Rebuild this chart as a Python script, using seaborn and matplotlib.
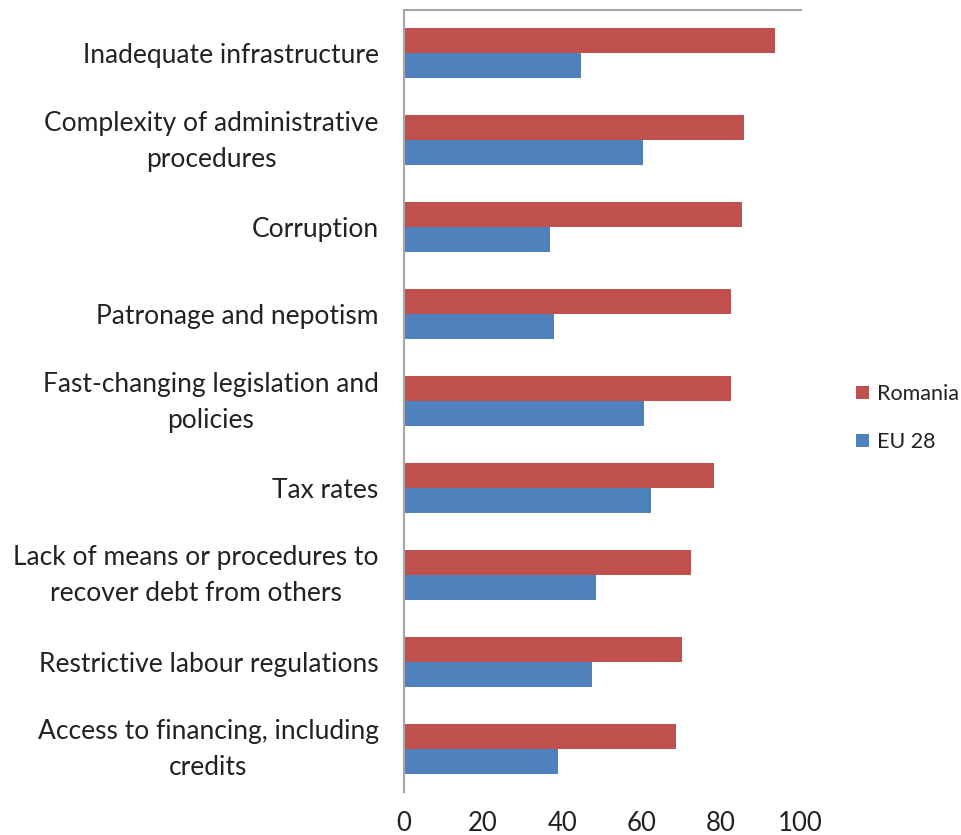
import matplotlib
matplotlib.use("Agg")
import matplotlib.pyplot as plt
import matplotlib.transforms as mtransforms
import seaborn as sns
import pandas as pd

# Obstacles to doing business: share of companies citing each factor
categories = [
    "Inadequate infrastructure",
    "Complexity of administrative\nprocedures",
    "Corruption",
    "Patronage and nepotism",
    "Fast-changing legislation and\npolicies",
    "Tax rates",
    "Lack of means or procedures to\nrecover debt from others",
    "Restrictive labour regulations",
    "Access to financing, including\ncredits",
]
romania = [93.5, 85.8, 85.3, 82.4, 82.4, 78.1, 72.5, 70.2, 68.6]
eu28 = [44.7, 60.4, 36.9, 37.9, 60.6, 62.3, 48.4, 47.5, 38.9]
series = ["Romania", "EU 28"]
x_ticks = [0, 20, 40, 60, 80, 100]

df = pd.DataFrame({
    "factor": categories * 2,
    "value": romania + eu28,
    "series": [series[0]] * len(categories) + [series[1]] * len(categories),
})

sns.set_theme(style="white")
plt.rcParams["font.family"] = ["Lato", "DejaVu Sans"]

fig = plt.figure(figsize=(9.61, 8.35), dpi=100)
ax = fig.add_axes([0.420, 0.0515, 0.413, 0.9365])

palette = {"Romania": "#C0504D", "EU 28": "#4F81BD"}
sns.barplot(
    data=df, y="factor", x="value", hue="series", order=categories,
    hue_order=series, palette=palette, orient="h", width=0.575,
    gap=0, saturation=1, edgecolor="none", ax=ax,
)

ax.set_xlim(0, 100)
ax.set_ylim(len(categories) - 0.5, -0.5)
ax.set_xticks(x_ticks)
ax.set_xticklabels([str(t) for t in x_ticks])
ax.set_xlabel("")
ax.set_ylabel("")

for side in ["bottom", "right"]:
    ax.spines[side].set_visible(False)
for side in ["top", "left"]:
    ax.spines[side].set_color("#A6A6A6")
    ax.spines[side].set_linewidth(1.5)

ax.tick_params(axis="x", length=0, pad=14, labelsize=18.5, labelcolor="#222222")
ax.tick_params(axis="y", length=0, pad=18, labelsize=19, labelcolor="#222222")

# two-line category labels: wider leading, nudged up to sit centred on the pair
lift = mtransforms.ScaledTranslation(0, 5 / 72, fig.dpi_scale_trans)
for lbl in ax.get_yticklabels():
    lbl.set_multialignment("center")
    lbl.set_linespacing(1.55)
    if "\n" in lbl.get_text():
        lbl.set_transform(lbl.get_transform() + lift)

ax.legend(
    loc="center left", bbox_to_anchor=(1.14, 0.478), frameon=False,
    fontsize=15.5, handlelength=0.6, handleheight=0.6, handletextpad=0.35,
    labelspacing=1.3, labelcolor="#222222", borderpad=0, borderaxespad=0,
)

fig.savefig("out.png", dpi=100, facecolor="white")
